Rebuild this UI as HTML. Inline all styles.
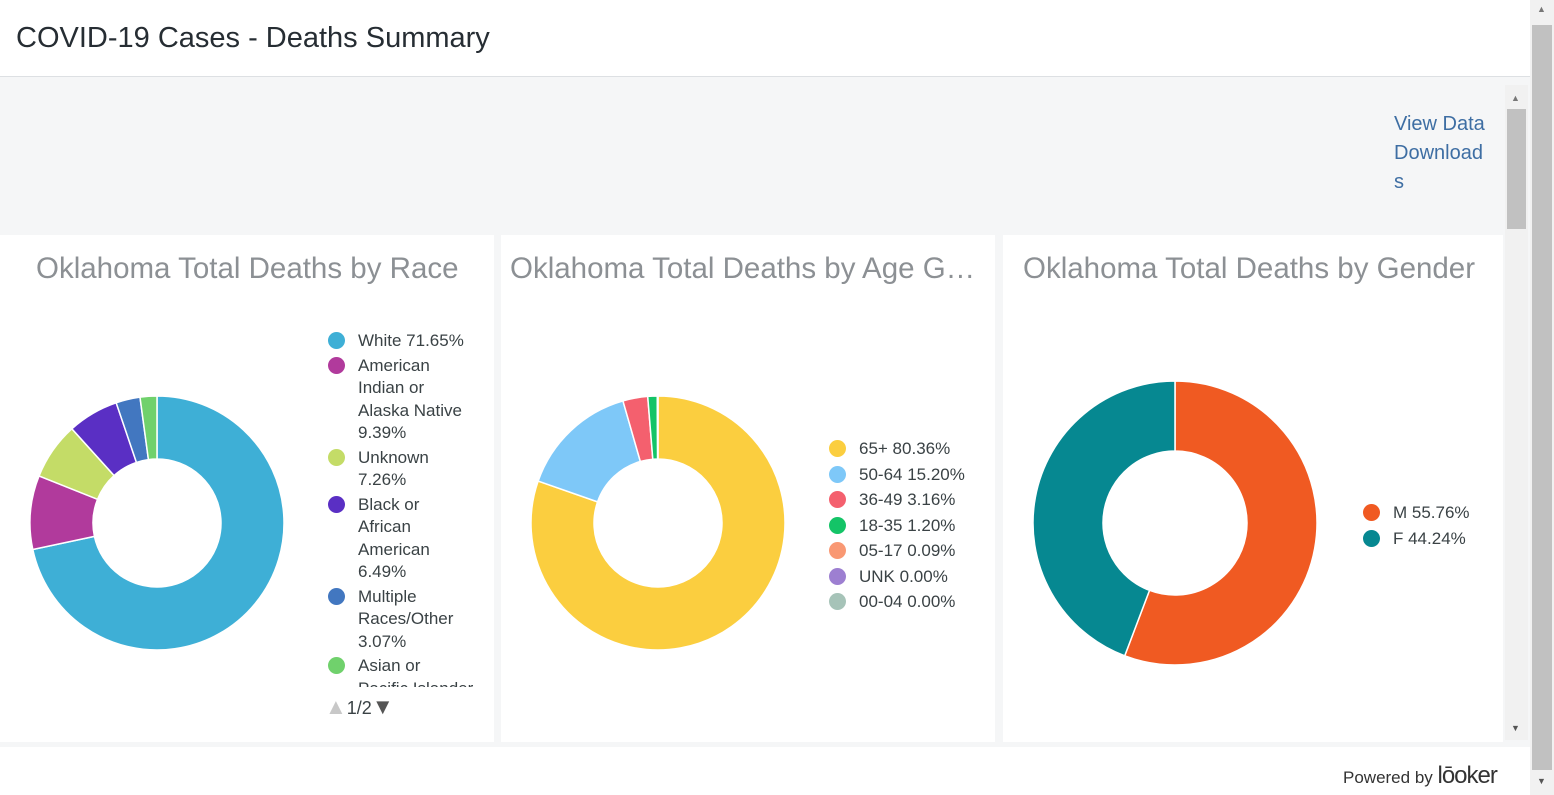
<!DOCTYPE html>
<html><head><meta charset="utf-8"><style>
*{margin:0;padding:0;box-sizing:border-box}
body{width:1554px;height:795px;overflow:hidden;background:#fff;font-family:"Liberation Sans","Open Sans",sans-serif;position:relative;color:#3a4245}
.abs{position:absolute}
.title{font-size:29.5px;color:#8c9094;white-space:nowrap;overflow:hidden;text-overflow:ellipsis}
.leg{font-size:17px;color:#3a4245;line-height:22.5px}
.dot{position:absolute;width:17px;height:17px;border-radius:50%}
</style></head><body>
<div class="abs" style="left:0;top:0;width:1530px;height:77px;border-bottom:1px solid #dde0e3">
<div class="abs" style="left:16px;top:22px;font-size:29px;color:#262d33">COVID-19 Cases - Deaths Summary</div></div>
<div class="abs" style="left:0;top:77px;width:1530px;height:670px;background:#f5f6f7"></div>
<div class="abs" style="left:1394px;top:110px;font-size:20px;color:#3e6ea3;line-height:29px">View Data<br>Download<br>s</div>
<div class="abs" style="left:1505px;top:85px;width:23px;height:655px;background:#f1f1f1"><div class="abs" style="left:2px;top:24px;width:19px;height:120px;background:#c1c1c1"></div><div class="abs" style="left:6px;top:8px;font-size:9px;color:#777">▲</div><div class="abs" style="left:6px;top:638px;font-size:9px;color:#555">▼</div></div>
<div class="abs" style="left:1530px;top:0;width:24px;height:795px;background:#f1f1f1"><div class="abs" style="left:2px;top:25px;width:20px;height:745px;background:#c1c1c1"></div><div class="abs" style="left:7px;top:4px;font-size:9px;color:#777">▲</div><div class="abs" style="left:7px;top:776px;font-size:9px;color:#555">▼</div></div>
<div class="abs" style="left:0;top:235px;width:494px;height:507px;background:#fff"></div>
<div class="abs" style="left:501px;top:235px;width:494px;height:507px;background:#fff"></div>
<div class="abs" style="left:1003px;top:235px;width:500px;height:507px;background:#fff"></div>
<div class="abs title" style="left:36px;top:252px;width:440px">Oklahoma Total Deaths by Race</div>
<div class="abs title" style="left:510px;top:252px;width:472px">Oklahoma Total Deaths by Age Group</div>
<div class="abs title" style="left:1023px;top:252px;width:470px">Oklahoma Total Deaths by Gender</div>
<svg class="abs" style="left:0;top:0" width="1554" height="795" id="svg"></svg>
<div class="abs" style="left:325px;top:330px;width:160px;height:357px;overflow:hidden" id="raceLeg"></div>
<div class="abs" style="left:325px;top:694px;font-size:18px;color:#3a4245"><span style="color:#c8c8c8;font-size:22px">▲</span>1/2<span style="color:#555;font-size:22px">▼</span></div>
<div class="abs" style="left:826px;top:438px;width:170px" id="ageLeg"></div>
<div class="abs" style="left:1360px;top:502px;width:130px" id="genLeg"></div>
<div class="abs" style="left:1343px;top:762px;font-size:17px;color:#333">Powered by <span style="font-size:24px;letter-spacing:-1px">lōoker</span></div>
<script>
const raceLabels=["White","American Indian or Alaska Native","Unknown","Black or African American","Multiple Races/Other","Asian or Pacific Islander"];
const raceValues=[71.65,9.39,7.26,6.49,3.07,2.14];
const raceColors=["#3eafd6","#b13a9c","#c4dc67","#5a2fc4","#4277c0","#70d16c"];
const ageLabels=["65+","50-64","36-49","18-35","05-17","UNK","00-04"];
const ageValues=[80.36,15.20,3.16,1.20,0.09,0.00,0.00];
const ageColors=["#fbce3f","#7ec8f8","#f4606e","#14c467","#f99873","#9d7fd1","#a6c3b8"];
const genLabels=["M","F"];
const genValues=[55.76,44.24];
const genColors=["#f05a22","#068891"];
const svg=document.getElementById('svg');const NS="http://www.w3.org/2000/svg";
function donut(cx,cy,R,r,vals,cols,name){
 const tot=vals.reduce((a,b)=>a+b,0);let a0=0;
 vals.forEach((v,i)=>{if(v<=0)return;const a1=a0+v/tot*2*Math.PI;
  const p=(a,rad)=>[cx+rad*Math.sin(a),cy-rad*Math.cos(a)];
  const [x1,y1]=p(a0,R),[x2,y2]=p(a1,R),[x3,y3]=p(a1,r),[x4,y4]=p(a0,r);const lg=(a1-a0)>Math.PI?1:0;
  const el=document.createElementNS(NS,'path');
  el.setAttribute('d',`M${x1},${y1}A${R},${R} 0 ${lg} 1 ${x2},${y2}L${x3},${y3}A${r},${r} 0 ${lg} 0 ${x4},${y4}Z`);
  el.setAttribute('fill',cols[i]);el.setAttribute('stroke','#fff');el.setAttribute('stroke-width','1.5');
  
  
  svg.appendChild(el);a0=a1;});
}
donut(157,523,127,64,raceValues,raceColors,'race');
donut(658,523,127,64,ageValues,ageColors,'age');
donut(1175,523,142,72,genValues,genColors,'gender');
function legend(id,labels,vals,cols,gap,w){
 const c=document.getElementById(id);
 labels.forEach((l,i)=>{const d=document.createElement('div');
  
  
  d.className='leg';d.style.position='relative';d.style.paddingLeft='33px';d.style.marginBottom=gap+'px';d.style.width=w+'px';
  d.innerHTML=`<span class="dot" style="left:3px;top:2px;background:${cols[i]}"></span>${l} ${vals[i].toFixed(2)}%`;c.appendChild(d);});
}
legend('raceLeg',raceLabels,raceValues,raceColors,2,150);
legend('ageLeg',ageLabels,ageValues,ageColors,3,170);
legend('genLeg',genLabels,genValues,genColors,3,130);
</script>
</body></html>
